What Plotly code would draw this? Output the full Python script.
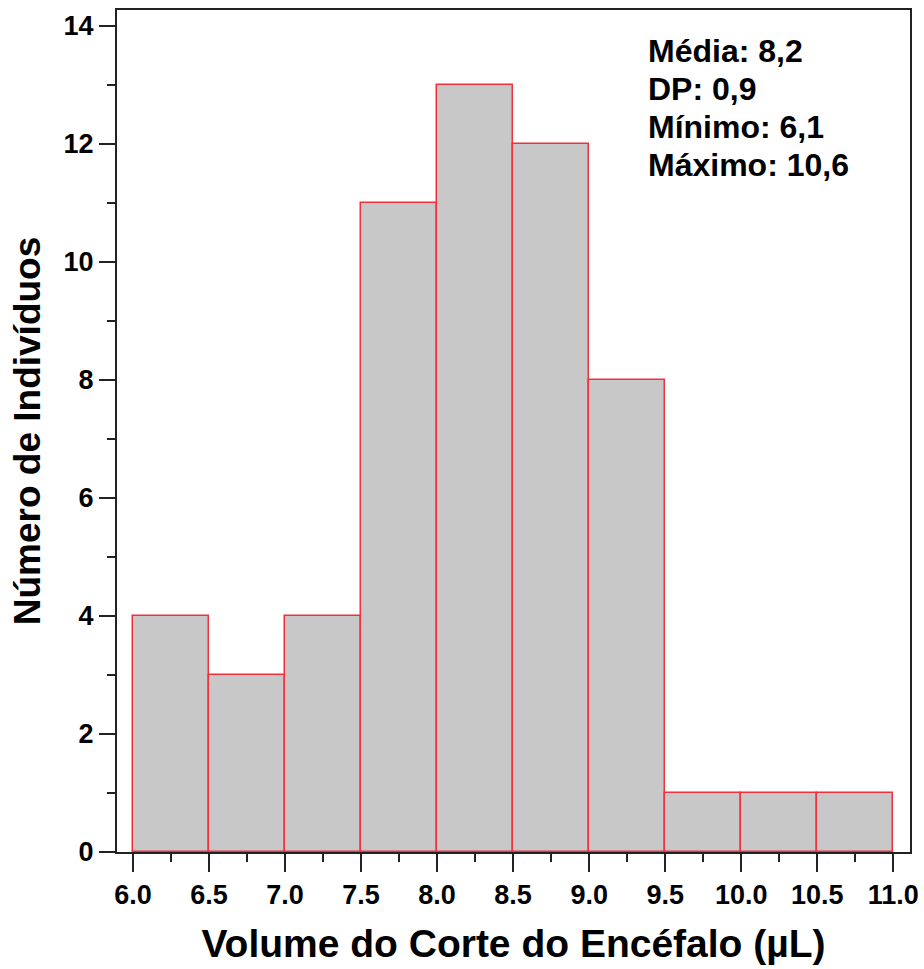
import plotly.graph_objects as go

# Histogram bins (left edges, width 0.5 µL) and counts
bin_left = [6.0, 6.5, 7.0, 7.5, 8.0, 8.5, 9.0, 9.5, 10.0, 10.5]
counts = [4, 3, 4, 11, 13, 12, 8, 1, 1, 1]
bin_width = 0.5

stats_labels = ["Média", "DP", "Mínimo", "Máximo"]
stats_values = ["8,2", "0,9", "6,1", "10,6"]

x_ticks = [6.0, 6.5, 7.0, 7.5, 8.0, 8.5, 9.0, 9.5, 10.0, 10.5, 11.0]
y_ticks = [0, 2, 4, 6, 8, 10, 12, 14]

FONT = "Liberation Sans, Arial, sans-serif"

centers = [b + bin_width / 2 for b in bin_left]

fig = go.Figure(
    go.Bar(
        x=centers,
        y=counts,
        width=bin_width,
        marker=dict(color="#c8c8c8", line=dict(color="#f0303c", width=1.5)),
        hoverinfo="x+y",
    )
)

# Summary statistics, one line per annotation (plot area spans 842 px)
plot_top, plot_h = 10, 842
line_centres = [51, 89, 127, 165]
for (k, v), yc in zip(zip(stats_labels, stats_values), line_centres):
    fig.add_annotation(
        xref="paper", yref="paper", x=0.668, y=(plot_top + plot_h - yc) / plot_h,
        xanchor="left", yanchor="middle", align="left", showarrow=False,
        text=f"<b>{k}: {v}</b>", borderpad=0,
        font=dict(family=FONT, size=32, color="#000"),
    )

fig.update_layout(
    width=924, height=969,
    margin=dict(l=117, r=14, t=10, b=117, autoexpand=False),
    paper_bgcolor="white", plot_bgcolor="white",
    showlegend=False,
    bargap=0,
    font=dict(family=FONT, color="#000"),
)

fig.update_xaxes(
    range=[5.895, 11.11], automargin=False,
    tickvals=x_ticks, ticktext=[f"{v:.1f}" for v in x_ticks],
    ticks="outside", ticklen=18, tickwidth=2, tickcolor="#222",
    minor=dict(dtick=0.25, tick0=6.0, ticks="outside", ticklen=8, tickwidth=2, tickcolor="#222"),
    tickfont=dict(family=FONT, size=27, color="#000", weight="bold"),
    showline=True, linecolor="#222", linewidth=2, mirror=True,
    showgrid=False, zeroline=False,
    title=dict(text="<b>Volume do Corte do Encéfalo (µL)</b>",
               font=dict(family=FONT, size=39, color="#000"), standoff=20),
)

fig.update_yaxes(
    range=[0, 14.27], automargin=False,
    tickvals=y_ticks,
    ticks="outside", ticklen=16, tickwidth=2, tickcolor="#222",
    minor=dict(dtick=1, tick0=0, ticks="outside", ticklen=8, tickwidth=2, tickcolor="#222"),
    tickfont=dict(family=FONT, size=27, color="#000", weight="bold"),
    showline=True, linecolor="#222", linewidth=2, mirror=True,
    showgrid=False, zeroline=False,
    title=dict(text="<b>Número de Indivíduos</b>",
               font=dict(family=FONT, size=37, color="#000"), standoff=12),
)

fig.write_html("out.html")
